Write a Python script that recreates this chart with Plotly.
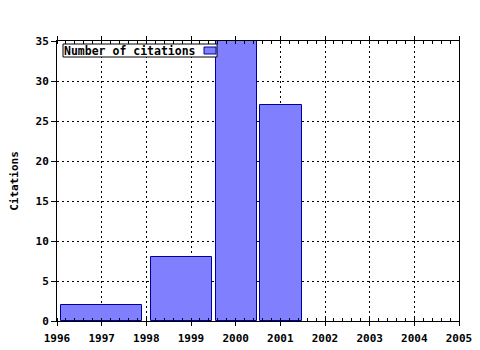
import plotly.graph_objects as go

years_center = [1997.0, 1998.78, 2000.02, 2001.02]
bar_widths = [1.8, 1.36, 0.91, 0.93]
citations = [2, 8, 35, 27]
series_name = "Number of citations"
x_ticks = list(range(1996, 2006))
y_ticks = [0, 5, 10, 15, 20, 25, 30, 35]

FONT = dict(family="DejaVu Sans Mono", size=11, color="black", weight="bold")
LFONT = dict(FONT, size=11.5)

fig = go.Figure()
fig.add_trace(go.Bar(
    x=years_center, y=citations, width=bar_widths, name=series_name,
    marker=dict(color="#8080ff", line=dict(color="#0000a0", width=1)),
    showlegend=False,
))

W, H = 480, 350
L, R, T, B = 57, 21, 41, 29
pw, ph = W - L - R, H - T - B

def px(xp):
    return (xp - L) / pw

def py(yp):
    return 1 - (yp - T) / ph

fig.update_layout(
    width=W, height=H,
    margin=dict(l=L, r=R, t=T, b=B, pad=0, autoexpand=False),
    paper_bgcolor="white", plot_bgcolor="white",
    font=FONT,
    xaxis=dict(
        range=[1996, 2005], tickvals=x_ticks, ticktext=[str(v) for v in x_ticks],
        showline=True, linecolor="black", linewidth=1, mirror="ticks",
        ticks="outside", ticklen=4, tickcolor="black", ticklabelstandoff=3,
        showgrid=True, gridcolor="black", griddash="2px,3px", gridwidth=1,
        zeroline=False, tickfont=FONT, automargin=False,
        minor=dict(dtick=0.2, ticks="inside", ticklen=3, tickcolor="black", showgrid=False),
    ),
    yaxis=dict(
        range=[0, 35], tickvals=y_ticks,
        showline=True, linecolor="black", linewidth=1, mirror=True,
        ticks="outside", ticklen=5, tickcolor="black",
        showgrid=True, gridcolor="black", griddash="2px,3px", gridwidth=1,
        zeroline=False, tickfont=FONT, automargin=False,
        title=dict(text="Citations", font=FONT, standoff=14),
    ),
    bargap=0,
)

# legend box (text first, swatch to the right, as in the reference)
fig.add_shape(
    type="rect", xref="paper", yref="paper",
    x0=px(63), x1=px(217), y0=py(57), y1=py(44),
    fillcolor="white", line=dict(color="black", width=1), layer="above",
)
fig.add_shape(
    type="rect", xref="paper", yref="paper",
    x0=px(204), x1=px(216), y0=py(54), y1=py(47),
    fillcolor="#8080ff", line=dict(color="#0000a0", width=1), layer="above",
)
fig.add_annotation(
    xref="paper", yref="paper", x=px(62), y=py(50.5), xanchor="left", yanchor="middle",
    text=series_name, showarrow=False, font=LFONT,
)

fig.write_html("out.html")
